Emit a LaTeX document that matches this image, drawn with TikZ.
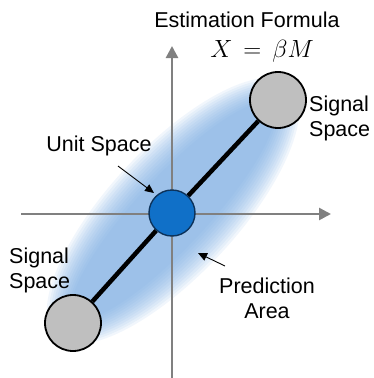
\documentclass[tikz,border=0pt]{standalone}
\usepackage{fontspec}
\setmainfont{Liberation Sans}
\usepackage{tikz}
\usetikzlibrary{arrows.meta, positioning, backgrounds}
\usepackage{xcolor}
\definecolor{axiscolor}{RGB}{128, 128, 128}
\definecolor{unitcolor}{RGB}{16, 112, 200}
\definecolor{unitborder}{RGB}{12, 50, 90}
\definecolor{signalcolor}{RGB}{191, 191, 191}
\definecolor{glowcolor}{RGB}{120, 170, 225}

\begin{document}
\begin{tikzpicture}[x=1pt, y=-1pt,
    axis/.style={draw=axiscolor, line width=2.6pt, -{Triangle[length=12pt, width=12pt]}},
    signal/.style={circle, draw=black, line width=1.8pt, fill=signalcolor,
                   minimum size=56pt, inner sep=0pt},
    unit/.style={circle, draw=unitborder, line width=1.4pt, fill=unitcolor,
                 minimum size=46pt, inner sep=0pt},
    txt/.style={font=\fontsize{21.5}{25}\selectfont, align=#1, inner sep=0pt},
    pointer/.style={draw=black, line width=0.9pt, -{Triangle[length=9pt, width=8pt]}}
]
\useasboundingbox (0,0) rectangle (374,378);

% Circles
\node[unit] (unit) at (172,213) {};
\node[signal] (sigup) at (278,100) {};
\node[signal] (sigdown) at (73,323) {};

% Axes
\coordinate (xleft) at (21,214);
\coordinate (xright) at (331,214);
\coordinate (ybottom) at (172,378);
\coordinate (ytop) at (172,46);

% Labels
\node[txt=center] (title) at (247,20) {Estimation Formula};
\node[inner sep=0pt, font=\fontsize{25}{30}\selectfont] (formula) at (262,51) {$X\,=\,\beta M$};
\node[txt=left, anchor=west] (sigupl) at (309,118) {Signal\\Space};
\node[txt=left, anchor=west] (sigdownl) at (9,270) {Signal\\Space};
\node[txt=center] (unitlbl) at (99,146) {Unit Space};
\node[txt=center] (predlbl) at (267,298) {Prediction\\Area};

% Pointers
\coordinate (unittip) at (154,193);
\coordinate (predtip) at (198,253);
\coordinate (unittail) at (118,166);
\coordinate (predtail) at (225,266);
\draw[pointer] (unittail) -- (unittip);
\draw[pointer] (predtail) -- (predtip);

\begin{scope}[on background layer]
    % Prediction area
    \foreach \k in {0,...,11}
        \fill[glowcolor, opacity=0.1, shift={(173,211)}, rotate=47]
            (0,0) ellipse [x radius={172-2.5*\k}, y radius={64-2.6*\k}];
    % Axes
    \draw[axis] (xleft) -- (xright);
    \draw[axis] (ybottom) -- (ytop);
    % Link
    \draw[line width=4.5pt] (sigdown) -- (unit) -- (sigup);
\end{scope}

\end{tikzpicture}
\end{document}
